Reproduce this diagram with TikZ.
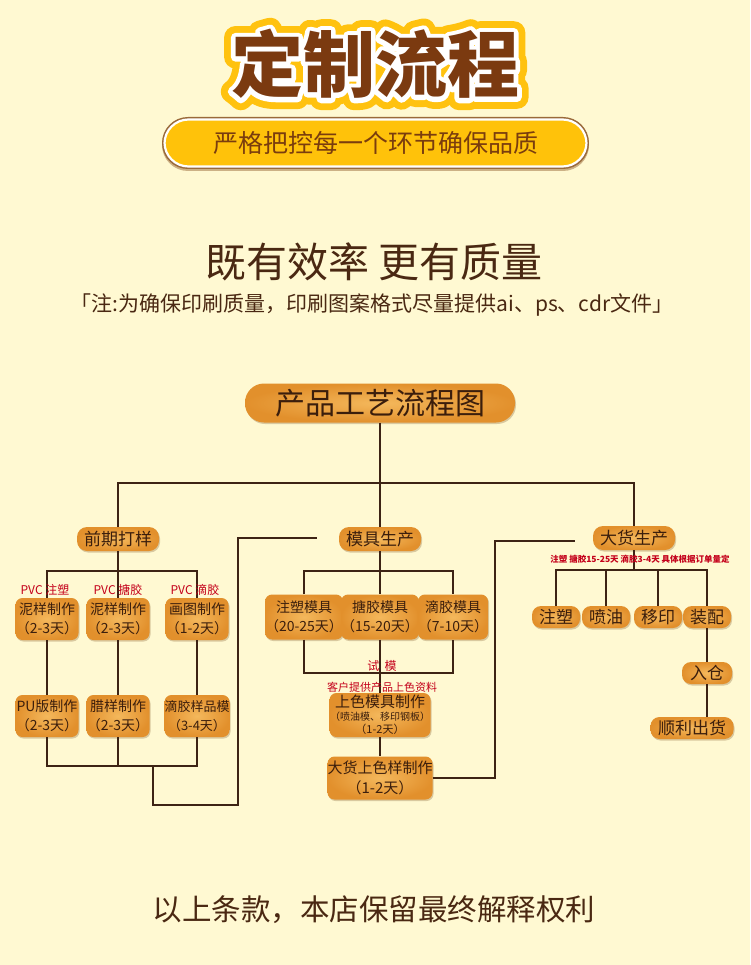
\documentclass[tikz,border=0pt]{standalone}
\usepackage{fontspec}
\setmainfont{Noto Sans CJK SC}
\newfontfamily\rimouter{Noto Sans CJK SC}[BoldFeatures={FakeBold=32}]
\newfontfamily\riminner{Noto Sans CJK SC}[BoldFeatures={FakeBold=13}]
\usetikzlibrary{calc,positioning,shadows}

\definecolor{bgcream}{HTML}{FFF9D2}
\definecolor{linebrown}{HTML}{3D2314}
\definecolor{boxlight}{HTML}{F4B85C}
\definecolor{boxdark}{HTML}{E2902C}
\definecolor{boxtext}{HTML}{3B1E0C}
\definecolor{shadowtan}{HTML}{C9B58A}
\definecolor{notered}{HTML}{C4001A}
\definecolor{titlebrown}{HTML}{7B3A10}
\definecolor{titlegold}{HTML}{FFC20F}
\definecolor{bannergold}{HTML}{FFC20A}
\definecolor{bannerrim}{HTML}{9A6A3A}
\definecolor{bannertext}{HTML}{7A3D0E}
\definecolor{headtext}{HTML}{4A2812}

\newcommand\fsz[1]{\fontsize{#1}{#1}\selectfont}

\begin{document}
\begin{tikzpicture}[
    x=1pt, y=-1pt,
    link/.style={draw=linebrown, line width=1.3pt},
    box/.style={rounded corners=7pt, inner sep=0pt, align=center,
      shading=radial, inner color=boxlight, outer color=boxdark,
      drop shadow={shadow xshift=1pt, shadow yshift=-1.5pt,
        fill=shadowtan, opacity=0.7},
      text=boxtext},
    pill/.style={box, rounded corners=10pt, minimum height=24pt,
      minimum width=82pt, font=\fsz{17}},
    tag/.style={box, rounded corners=9pt, minimum height=22pt,
      minimum width=48pt, font=\fsz{17}},
    cell/.style={box, minimum width=63pt, minimum height=42pt,
      font=\fontsize{14}{19}\selectfont},
    redtag/.style={text=notered, inner sep=0pt, font=\fsz{12}},
    titletxt/.style={inner sep=0pt, line join=round, font=\fsz{72}\bfseries},
  ]
  \useasboundingbox (0,0) rectangle (750,965);
  \fill[bgcream] (0,0) rectangle (750,965);

  % Title with two outlines
  \coordinate (titlepos) at (375,64);
  \node[titletxt, text=titlegold, font=\rimouter\fsz{72}\bfseries] (titlerim) at (titlepos) {定制流程};
  \node[titletxt, text=white, font=\riminner\fsz{72}\bfseries] (titleedge) at (titlepos) {定制流程};
  \node[titletxt, text=titlebrown] (title) at (titlepos) {定制流程};

  % Banner
  \node[fill=bannerrim, rounded corners=26pt, minimum width=427pt,
    minimum height=52pt, inner sep=0pt,
    drop shadow={shadow xshift=0pt, shadow yshift=-2pt, fill=bannerrim, opacity=0.5}]
    (bannerback) at (375.5,143) {};
  \node[fill=bannergold, draw=white, line width=2.2pt, rounded corners=24pt,
    minimum width=422pt, minimum height=47pt, inner sep=0pt,
    text=bannertext, font=\fsz{25}] (banner) at (bannerback)
    {严格把控每一个环节确保品质};

  % Headline and note
  \node[text=headtext, font=\fsz{41}] (slogan) at (374,262) {既有效率 更有质量};
  \node[text=headtext, font=\fsz{21}] (hint) at (372,305)
    {「注:为确保印刷质量，印刷图案格式尽量提供ai、ps、cdr文件」};

  % Flow chart nodes
  \node[box, rounded corners=19pt, minimum width=270pt, minimum height=39pt,
    font=\fsz{30}] (top) at (380,403) {产品工艺流程图};
  \node[pill] (qianqi) at (118,539) {前期打样};
  \node[pill] (muju) at (380,539) {模具生产};
  \node[pill] (dahuo) at (634,538) {大货生产};

  % Sample column
  \node[cell] (A1) at (47,619) {泥样制作\\（2-3天）};
  \node[cell] (A2) at (118,619) {泥样制作\\（2-3天）};
  \node[cell] (A3) at (197,619) {画图制作\\（1-2天）};
  \node[cell] (B1) at (47,716) {PU版制作\\（2-3天）};
  \node[cell] (B2) at (118,716) {腊样制作\\（2-3天）};
  \node[cell, font=\fontsize{13}{19}\selectfont] (B3) at (197,716) {滴胶样品模\\（3-4天）};

  % Mould column
  \node[cell, minimum width=64pt, minimum height=45pt] (M1) at (304,617) {注塑模具\\（20-25天）};
  \node[cell, minimum width=64pt, minimum height=45pt] (M2) at (380,617) {搪胶模具\\（15-20天）};
  \node[cell, minimum width=64pt, minimum height=45pt] (M3) at (453,617) {滴胶模具\\（7-10天）};
  \node[cell, minimum width=101pt, minimum height=44pt, font=\fontsize{15}{14}\selectfont]
    (C1) at (380,715) {上色模具制作\\[-1pt]{\fontsize{10}{13}\selectfont（喷油模、移印钢板）}\\[-1pt]{\fontsize{11}{13}\selectfont（1-2天）}};
  \node[cell, minimum width=101pt, minimum height=43pt, font=\fontsize{15}{20}\selectfont]
    (C2) at (380,778) {大货上色样制作\\（1-2天）};

  % Bulk column
  \node[tag] (D1) at (556,617) {注塑};
  \node[tag] (D2) at (606,617) {喷油};
  \node[tag] (D3) at (658,617) {移印};
  \node[tag] (D4) at (707,617) {装配};
  \node[tag, minimum width=50pt] (D5) at (707,673) {入仓};
  \node[tag, minimum width=83pt] (D6) at (692,728) {顺利出货};

  % Connectors
  \coordinate (bus) at (380,483);
  \draw[link] (top.south) -- (muju.north);
  \draw[link] (qianqi.north) |- (dahuo.north |- bus) -- (dahuo.north);

  \coordinate (barA) at (0,571);
  \draw[link] (A1.north) |- (A3.north |- barA) -- (A3.north);
  \draw[link] (qianqi.south) -- (A2.north);
  \foreach \c in {1,2,3} \draw[link] (A\c.south) -- (B\c.north);
  \coordinate (barB) at (0,766);
  \draw[link] (B1.south) |- (B3.south |- barB) -- (B3.south);
  \draw[link] (B2.south) -- (B2.south |- barB);
  \coordinate (loopA) at (153,766);
  \coordinate (loopA2) at (238,805);
  \coordinate (loopAend) at (317,538);
  \draw[link] (loopA) |- (loopA2) |- (loopAend);

  \coordinate (barM) at (0,571);
  \draw[link] (M1.north) |- (M3.north |- barM) -- (M3.north);
  \draw[link] (muju.south) -- (M2.north);
  \coordinate (barT) at (0,673);
  \draw[link] (M1.south) |- (M3.south |- barT) -- (M3.south);
  \draw[link] (M2.south) -- (C1.north);
  \draw[link] (C1.south) -- (C2.north);
  \coordinate (turnB) at (495,541);
  \coordinate (endB) at (575,541);
  \draw[link] (C2.east) -| (turnB) -- (endB);

  \coordinate (barD) at (0,570);
  \draw[link] (D1.north) |- (D4.north |- barD) -- (D4.north);
  \draw[link] (dahuo.south) -- (dahuo.south |- barD);
  \foreach \c in {2,3} \draw[link] (D\c.north) -- (D\c.north |- barD);
  \draw[link] (D4.south) -- (D5.north);
  \draw[link] (D5.south) -- (D5.south |- D6.north);

  % Red notes
  \node[redtag] (pvc1) at (45,590) {PVC 注塑};
  \node[redtag] (pvc2) at (118,590) {PVC 搪胶};
  \node[redtag] (pvc3) at (195,590) {PVC 滴胶};
  \node[redtag] (trial) at (382,666) {试\ \ 模};
  \node[redtag, font=\fsz{11}] (client) at (382,687) {客户提供产品上色资料};
  \node[redtag, font=\fsz{8.5}\bfseries] (bulknote) at (640,559)
    {注塑 搪胶15-25天 滴胶3-4天 具体根据订单量定};

  % Footer
  \node[text=headtext, font=\fsz{29.5}] (footer) at (374,910) {以上条款，本店保留最终解释权利};
\end{tikzpicture}
\end{document}
